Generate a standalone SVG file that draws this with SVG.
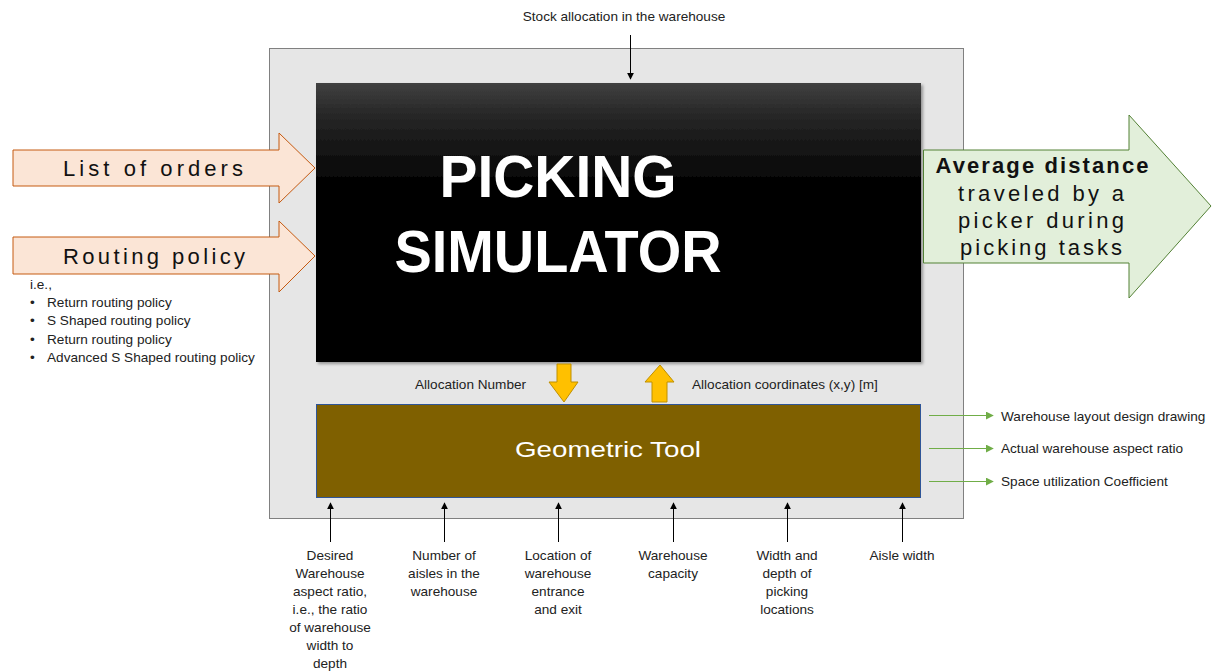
<svg xmlns="http://www.w3.org/2000/svg" width="1212" height="672" viewBox="0 0 1212 672">
<defs>
<linearGradient id="blk" x1="0" y1="0" x2="0" y2="1">
<stop offset="0" stop-color="#404040"/>
<stop offset="0.12" stop-color="#262626"/>
<stop offset="0.38" stop-color="#000"/>
<stop offset="1" stop-color="#000"/>
</linearGradient>
<filter id="sh" x="-5%" y="-5%" width="110%" height="110%">
<feDropShadow dx="2" dy="2" stdDeviation="1.5" flood-color="#000" flood-opacity="0.35"/>
</filter>
<marker id="ak" viewBox="0 0 10 10" refX="9" refY="5" markerWidth="7" markerHeight="7" markerUnits="userSpaceOnUse" orient="auto">
<path d="M0,0 L10,5 L0,10 z" fill="#000"/>
</marker>
<marker id="ag" viewBox="0 0 10 10" refX="9" refY="5" markerWidth="8" markerHeight="8" markerUnits="userSpaceOnUse" orient="auto">
<path d="M0,0 L10,5 L0,10 z" fill="#70ad47"/>
</marker>
</defs>
<style>
.lbl{font-family:"Liberation Sans",Arial,sans-serif;font-size:13.6px;fill:#222}
.mid{text-anchor:middle}
.big{font-family:"Liberation Sans",Arial,sans-serif;font-size:22px;fill:#111}
.blk{stroke:#000;stroke-width:1;fill:none}
.grn{stroke:#70ad47;stroke-width:1;fill:none}
.inA{fill:#fbe5d6;stroke:#c55a11;stroke-width:1}
.yel{fill:#ffc000;stroke:#bf9000;stroke-width:1}
</style>
<rect width="1212" height="672" fill="#fff"/>

<g id="container">
<rect x="269.5" y="48.5" width="694" height="470" fill="#e6e6e6" stroke="#808080" stroke-width="1"/>
</g>

<g id="picking-simulator">
<rect x="316" y="83" width="605" height="279" fill="url(#blk)" filter="url(#sh)"/>
<text x="558" y="197" text-anchor="middle" font-family="Liberation Sans,Arial,sans-serif" font-weight="bold" font-size="60" fill="#fff" textLength="237" lengthAdjust="spacingAndGlyphs">PICKING</text>
<text x="558" y="272" text-anchor="middle" font-family="Liberation Sans,Arial,sans-serif" font-weight="bold" font-size="60" fill="#fff" textLength="327" lengthAdjust="spacingAndGlyphs">SIMULATOR</text>
</g>

<g id="geometric-tool">
<rect x="316.5" y="404.5" width="604" height="93" fill="#7f6000" stroke="#2f5597" stroke-width="1"/>
<text x="608" y="457" font-family="Liberation Sans,Arial,sans-serif" font-size="22" fill="#fff" text-anchor="middle" textLength="186" lengthAdjust="spacingAndGlyphs">Geometric Tool</text>
</g>

<g id="list-of-orders">
<path class="inA" d="M13,150 L279,150 L279,133 L315,168 L279,203 L279,186 L13,186 Z"/>
<text class="big" x="63" y="176" textLength="180" lengthAdjust="spacing">List of orders</text>
</g>

<g id="routing-policy">
<path class="inA" d="M13,237 L279,237 L279,221 L315,256 L279,292 L279,274 L13,274 Z"/>
<text class="big" x="63" y="264" textLength="182" lengthAdjust="spacing">Routing policy</text>
<text class="lbl" x="30" y="289">i.e.,</text>
<text class="lbl" x="30" y="307">•</text><text class="lbl" x="47" y="307">Return routing policy</text>
<text class="lbl" x="30" y="325">•</text><text class="lbl" x="47" y="325">S Shaped routing policy</text>
<text class="lbl" x="30" y="344">•</text><text class="lbl" x="47" y="344">Return routing policy</text>
<text class="lbl" x="30" y="362">•</text><text class="lbl" x="47" y="362">Advanced S Shaped routing policy</text>
</g>

<g id="average-distance">
<path d="M923.5,150 L1129,150 L1129,115 L1211,206 L1129,298 L1129,263 L923.5,263 Z" fill="#e2efda" stroke="#538135" stroke-width="1"/>
<text class="big mid" x="1042" y="173" font-weight="bold" textLength="213" lengthAdjust="spacing">Average distance</text>
<text class="big mid" x="1041" y="201" textLength="166" lengthAdjust="spacing">traveled by a</text>
<text class="big mid" x="1041" y="228" textLength="166" lengthAdjust="spacing">picker during</text>
<text class="big mid" x="1041" y="255" textLength="162" lengthAdjust="spacing">picking tasks</text>
</g>

<g id="stock-allocation">
<text class="lbl mid" x="624" y="21">Stock allocation in the warehouse</text>
</g>

<g id="allocation-number">
<text class="lbl" x="415" y="389">Allocation Number</text>
</g>
<g id="allocation-coordinates">
<text class="lbl" x="692" y="389">Allocation coordinates (x,y) [m]</text>
</g>

<g id="outputs">
<text class="lbl" x="1001" y="421">Warehouse layout design drawing</text>
<text class="lbl" x="1001" y="453">Actual warehouse aspect ratio</text>
<text class="lbl" x="1001" y="486">Space utilization Coefficient</text>
</g>

<g id="bottom-inputs">
<text class="lbl mid" x="330" y="560">Desired</text>
<text class="lbl mid" x="330" y="578">Warehouse</text>
<text class="lbl mid" x="330" y="596">aspect ratio,</text>
<text class="lbl mid" x="330" y="614">i.e., the ratio</text>
<text class="lbl mid" x="330" y="632">of warehouse</text>
<text class="lbl mid" x="330" y="650">width to</text>
<text class="lbl mid" x="330" y="668">depth</text>
<text class="lbl mid" x="444" y="560">Number of</text>
<text class="lbl mid" x="444" y="578">aisles in the</text>
<text class="lbl mid" x="444" y="596">warehouse</text>
<text class="lbl mid" x="558" y="560">Location of</text>
<text class="lbl mid" x="558" y="578">warehouse</text>
<text class="lbl mid" x="558" y="596">entrance</text>
<text class="lbl mid" x="558" y="614">and exit</text>
<text class="lbl mid" x="673" y="560">Warehouse</text>
<text class="lbl mid" x="673" y="578">capacity</text>
<text class="lbl mid" x="787" y="560">Width and</text>
<text class="lbl mid" x="787" y="578">depth of</text>
<text class="lbl mid" x="787" y="596">picking</text>
<text class="lbl mid" x="787" y="614">locations</text>
<text class="lbl mid" x="902" y="560">Aisle width</text>
</g>

<g id="connectors">
<line class="blk" x1="630.5" y1="35" x2="630.5" y2="79" marker-end="url(#ak)"/>
<path class="yel" d="M557,364 L571,364 L571,382 L578,382 L564,402 L549,382 L557,382 Z"/>
<path class="yel" d="M652,402 L667,402 L667,382 L674,382 L660,365 L645,382 L652,382 Z"/>
<line class="grn" x1="929" y1="415.5" x2="993" y2="415.5" marker-end="url(#ag)"/>
<line class="grn" x1="929" y1="448.5" x2="993" y2="448.5" marker-end="url(#ag)"/>
<line class="grn" x1="929" y1="481.5" x2="993" y2="481.5" marker-end="url(#ag)"/>
<line class="blk" x1="330.5" y1="542" x2="330.5" y2="503" marker-end="url(#ak)"/>
<line class="blk" x1="444.5" y1="542" x2="444.5" y2="503" marker-end="url(#ak)"/>
<line class="blk" x1="558.5" y1="542" x2="558.5" y2="503" marker-end="url(#ak)"/>
<line class="blk" x1="673.5" y1="542" x2="673.5" y2="503" marker-end="url(#ak)"/>
<line class="blk" x1="787.5" y1="542" x2="787.5" y2="503" marker-end="url(#ak)"/>
<line class="blk" x1="902.5" y1="542" x2="902.5" y2="503" marker-end="url(#ak)"/>
</g>
</svg>
